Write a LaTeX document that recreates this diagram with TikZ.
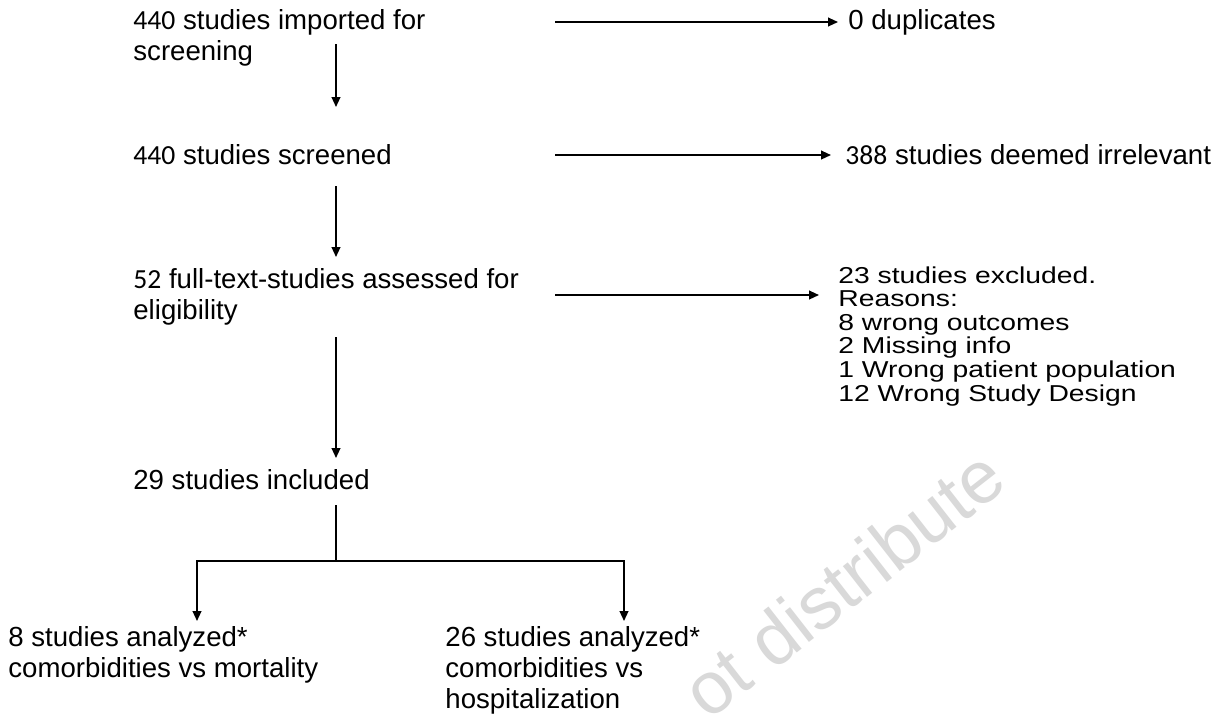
\documentclass[tikz,border=0pt]{standalone}
\usepackage{fontspec}
\setmainfont{Liberation Sans}
\newfontfamily\calnum{Carlito}
\usetikzlibrary{arrows.meta}
\newcommand\sx[1]{\scalebox{1.23}[1]{#1}}
\begin{document}
\begin{tikzpicture}[x=0.5pt,y=-0.5pt,
  txt/.style={anchor=base west, inner sep=0pt, font=\fontsize{13.8}{15.6}\selectfont},
  lst/.style={anchor=base west, inner sep=0pt, font=\fontsize{11.5}{11.75}\selectfont},
  arr/.style={-{Triangle[length=5pt,width=4.4pt]}, line width=0.85pt},
  ln/.style={line width=0.85pt},
  wm/.style={anchor=base west, inner sep=0pt, rotate=38, text=black!15, font=\fontsize{37}{37}\selectfont}]
\useasboundingbox (0,0) rectangle (1227,725);
\clip (0,0) rectangle (1227,725);
\fill[white] (0,0) rectangle (1227,725);

% watermark
\node[wm] (wmk) at (708,722) {ot distribute};

% left column
\node[txt] (imp) at (133,29) {\begin{tabular}[t]{@{}l@{}}{\calnum 440} studies imported for\\screening\end{tabular}};
\node[txt] (scr) at (133,164) {{\calnum 440} studies screened};
\node[txt] (full) at (133,288) {\begin{tabular}[t]{@{}l@{}}{\calnum 52} full-text-studies assessed for\\eligibility\end{tabular}};
\node[txt] (inc) at (133,489) {29 studies included};
\node[txt] (mort) at (8,646) {\begin{tabular}[t]{@{}l@{}}8 studies analyzed*\\comorbidities vs mortality\end{tabular}};
\node[txt] (hosp) at (445,646) {\begin{tabular}[t]{@{}l@{}}26 studies analyzed*\\comorbidities vs\\hospitalization\end{tabular}};

% right column
\node[txt] (dup) at (848,29) {0 duplicates};
\node[txt] (irr) at (845,164) {{\calnum 388} studies deemed irrelevant};
\node[lst] (exc) at (838,283) {\begin{tabular}[t]{@{}l@{}}\sx{23 studies excluded.}\\\sx{Reasons:}\\\sx{8 wrong outcomes}\\\sx{2 Missing info}\\\sx{1 Wrong patient population}\\\sx{12 Wrong Study Design}\end{tabular}};

% connector points
\coordinate (v1s) at (336,44);  \coordinate (v1e) at (336,107);
\coordinate (v2s) at (336,186); \coordinate (v2e) at (336,257);
\coordinate (v3s) at (336,337); \coordinate (v3e) at (336,458);
\coordinate (v4s) at (336,505); \coordinate (split) at (336,561);
\coordinate (bl) at (197,561);  \coordinate (blE) at (197,621);
\coordinate (br) at (624,561);  \coordinate (brE) at (624,621);
\coordinate (h1s) at (555,22);  \coordinate (h1e) at (838,22);
\coordinate (h2s) at (555,155); \coordinate (h2e) at (831,155);
\coordinate (h3s) at (555,295); \coordinate (h3e) at (819,295);

\draw[arr] (v1s) -- (v1e);
\draw[arr] (v2s) -- (v2e);
\draw[arr] (v3s) -- (v3e);
\draw[ln] (v4s) -- (split);
\draw[arr] (split) -- (bl) -- (blE);
\draw[arr] (split) -- (br) -- (brE);
\draw[arr] (h1s) -- (h1e);
\draw[arr] (h2s) -- (h2e);
\draw[arr] (h3s) -- (h3e);
\end{tikzpicture}
\end{document}
